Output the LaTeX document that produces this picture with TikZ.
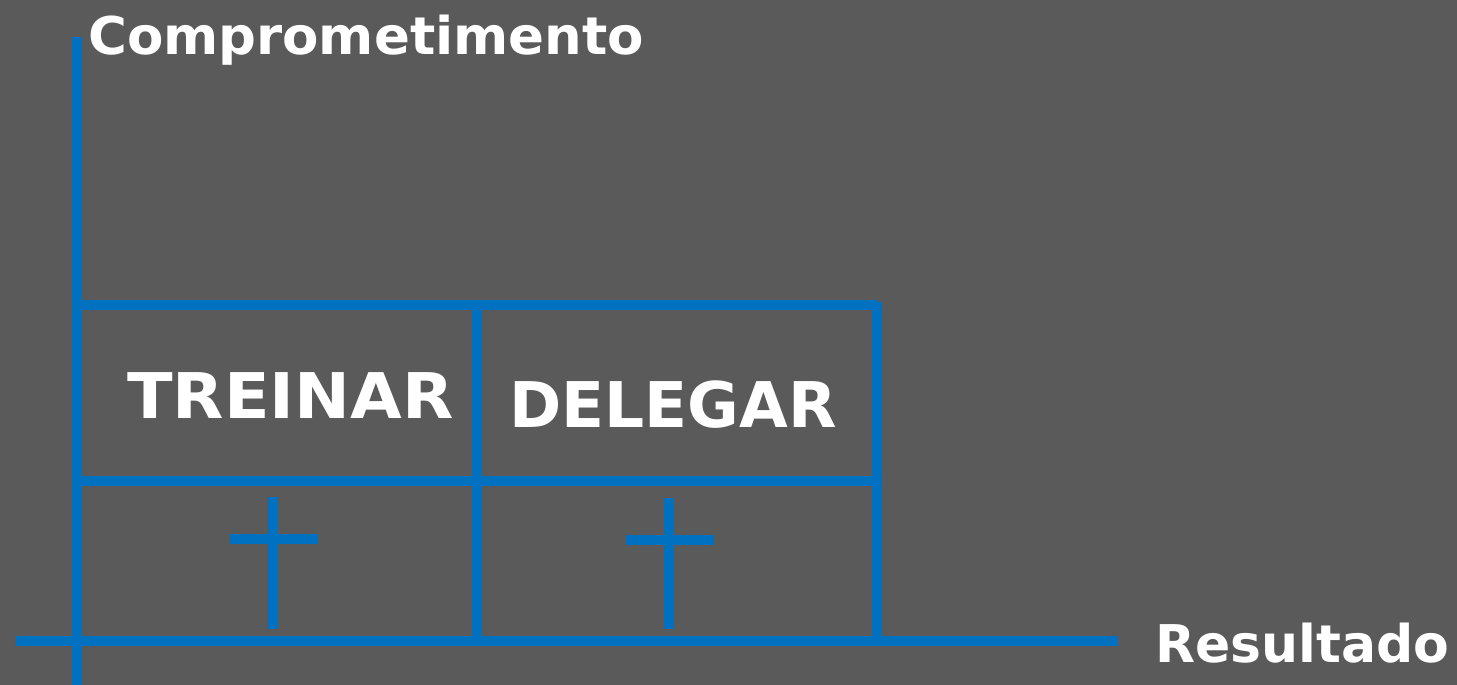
\documentclass[tikz,border=0pt]{standalone}
\usepackage{fontspec}
\setmainfont{DejaVu Sans}
\newfontfamily\widebold[FakeStretch=1.06]{DejaVu Sans Bold}
\newfontfamily\slightbold[FakeStretch=1.018]{DejaVu Sans Bold}
\definecolor{bg}{HTML}{5A5A5A}
\definecolor{lineblue}{HTML}{0070C0}
\tikzset{
  bl/.style={draw=lineblue, line width=10pt},
  lbl/.style={text=white, font=\slightbold\fontsize{52}{52}\selectfont, inner sep=0pt, anchor=base west},
  plainlbl/.style={text=white, font=\bfseries\fontsize{52}{52}\selectfont, inner sep=0pt, anchor=base west},
  biglbl/.style={text=white, font=\bfseries\fontsize{63}{63}\selectfont, inner sep=0pt, anchor=base west},
  widelbl/.style={text=white, font=\widebold\fontsize{63}{63}\selectfont, inner sep=0pt, anchor=base west}
}
\begin{document}
\begin{tikzpicture}[x=1pt,y=-1pt]
\fill[bg] (0,0) rectangle (1457,685);
\useasboundingbox (0,0) rectangle (1457,685);
% coordinates
\coordinate (ytop) at (76.5,37);
\coordinate (ybot) at (76.5,685);
\coordinate (xl) at (15,641);
\coordinate (xr) at (1117,641);
\coordinate (tl) at (76.5,305);
\coordinate (tr) at (876.5,305);
\coordinate (ml) at (76.5,481);
\coordinate (mr) at (876.5,481);
\coordinate (mt) at (476.5,305);
\coordinate (mb) at (476.5,641);
\coordinate (rb) at (876.5,641);
% axes
\draw[bl] (ytop) -- (ybot);
\draw[bl] (xl) -- (xr);
% grid
\draw[bl] (tl) -- (tr);
\draw[bl] (ml) -- (mr);
\draw[bl] (mt) -- (mb);
\draw[bl] ([yshift=3pt]tr) -- (rb);
% crosses
\coordinate (c1t) at (272,497);
\coordinate (c1b) at (272,628.5);
\coordinate (c1l) at (230,539);
\coordinate (c1r) at (317,539);
\draw[bl] (c1t) -- (c1b);
\draw[bl] (c1l) -- (c1r);
\coordinate (c2t) at (668.5,498);
\coordinate (c2b) at (668.5,629);
\coordinate (c2l) at (626,540);
\coordinate (c2r) at (713.5,540);
\draw[bl] (c2t) -- (c2b);
\draw[bl] (c2l) -- (c2r);
% labels
\node[lbl] (comp) at (88,55) {Comprometimento};
\node[widelbl] (treinar) at (127,418) {TREINAR};
\node[biglbl] (delegar) at (509,427) {DELEGAR};
\node[plainlbl] (res) at (1155,662) {Resultado};
\end{tikzpicture}
\end{document}
